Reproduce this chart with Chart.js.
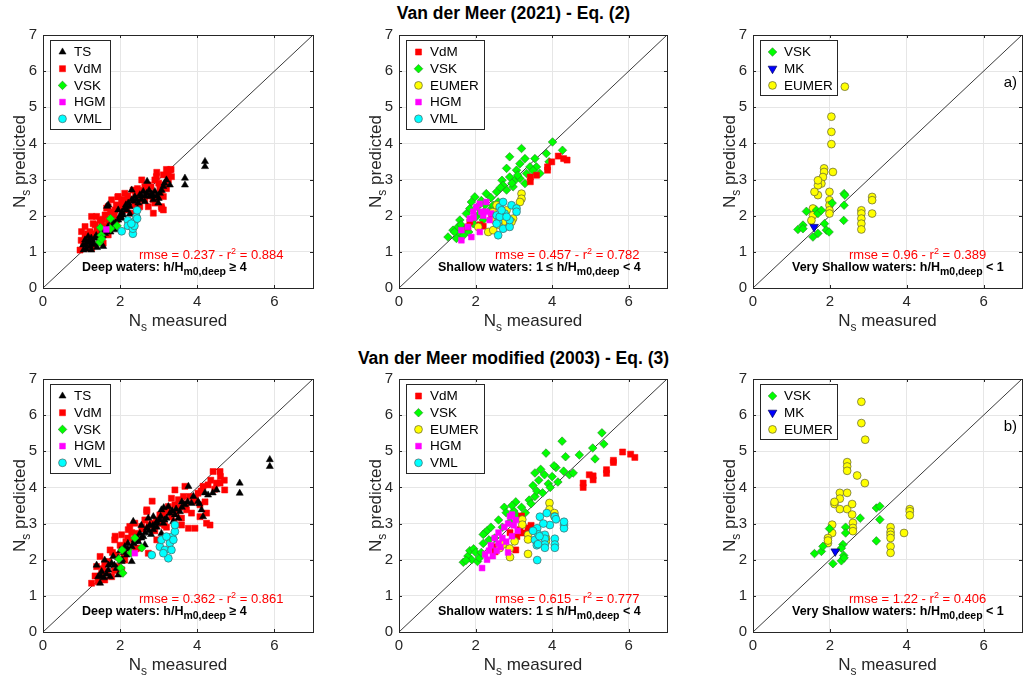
<!DOCTYPE html>
<html>
<head>
<meta charset="utf-8">
<script src="https://cdn.jsdelivr.net/npm/chart.js@4.4.1/dist/chart.umd.min.js"></script>
<style>
  html, body { margin: 0; padding: 0; background: #fff; }
  body { width: 1027px; height: 681px; position: relative; overflow: hidden;
         font-family: "Liberation Sans", Arial, Helvetica, sans-serif; }
  .title { position: absolute; left: 0; width: 1027px; text-align: center;
           font-weight: bold; font-size: 17.5px; color: #000; }
  canvas { position: absolute; }
</style>
</head>
<body>
<div class="title" style="top:3px">Van der Meer (2021) - Eq. (2)</div>
<div class="title" style="top:348px">Van der Meer modified (2003) - Eq. (3)</div>
<canvas id="c1"></canvas>
<canvas id="c2"></canvas>
<canvas id="c3"></canvas>
<canvas id="c4"></canvas>
<canvas id="c5"></canvas>
<canvas id="c6"></canvas>
<script>
// ---------- data: [N_s measured, N_s predicted] ----------
// Eq. (2), deep waters
const e2DeepTS = [[1.17,1.42],[1.3,1.28],[1.22,1.15],[1.43,1.24],[1.48,1.38],[1.61,1.51],[1.69,1.7],[1.82,1.75],
  [1.95,1.88],[2.08,2.02],[2.17,2.16],[2.21,2.35],[2.3,2.44],[2.38,2.53],[2.51,2.58],[2.6,2.67],[2.69,2.62],
  [2.77,2.53],[2.9,2.67],[3.03,2.62],[3.12,2.81],[3.2,2.99],[3.29,2.85],[1.69,2.3],[1.95,2.16],[2.12,2.21],
  [2.04,1.93],[1.87,1.61],[1.56,1.15],[1.09,1.33],[1.04,1.19],[1.35,1.38],[2.3,2.71],[2.47,2.35],[2.64,2.39],
  [2.86,2.44],[2.99,2.35],[1.66,2.26],[2.7,2.95],[1.12,1.08],[1.25,1.05],[1.4,1.12],[1.55,1.45],[1.75,1.55],
  [2.25,2.05],[2.45,2.2],[2.55,2.45],[2.85,2.55],[3.0,2.48],[3.68,3.04],[3.68,2.85],[4.2,3.5],[4.2,3.36],
  [1.15,1.25],[1.2,1.3],[1.3,1.2],[1.38,1.45],[1.5,1.5],[1.6,1.6],[1.7,1.6],[1.8,1.85],[1.88,1.8],[2.0,2.0],
  [2.05,2.1],[2.15,2.3],[2.25,2.25],[2.35,2.4],[2.42,2.45],[2.55,2.55],[2.65,2.55],[2.75,2.7],[2.82,2.6],
  [2.95,2.55],[3.08,2.7],[3.15,2.9],[1.05,1.05],[1.1,1.2],[1.25,1.38]];
const e2DeepVdM = [[0.96,1.05],[1.09,1.7],[1.26,1.98],[1.48,1.88],[1.69,2.25],[1.95,2.53],[2.12,2.62],[2.34,2.71],
  [2.56,2.99],[2.73,2.85],[2.94,3.08],[3.12,3.13],[3.29,3.27],[3.33,3.08],[3.16,2.85],[2.99,2.53],[3.07,2.25],
  [2.9,2.35],[3.12,2.16],[2.82,2.62],[2.64,2.44],[2.47,2.58],[2.38,2.3],[2.17,2.16],[2.04,2.35],[1.87,2.16],
  [1.78,1.98],[1.61,2.02],[1.52,1.79],[1.35,1.75],[1.22,1.56],[1.09,1.42],[1.0,1.56],[1.17,1.28],[1.35,1.19],
  [1.56,1.24],[1.69,1.47],[1.43,1.42],[1.91,1.88],[2.3,2.07],[2.51,2.25],[2.73,2.25],[2.86,2.07],[2.64,2.81],
  [2.9,2.99],[3.03,2.76],[3.25,2.99],[3.12,2.53],[2.94,2.39],[1.78,2.44],[1.65,2.21],[1.39,1.98],[1.13,1.19],
  [1.26,1.1],[1.94,2.52],[1.3,1.78],[3.08,2.2],[3.2,3.28],[3.32,3.28],[0.99,1.32],[2.2,2.4],[2.45,2.75],
  [1.05,1.2],[1.15,1.5],[1.2,1.35],[1.3,1.5],[1.4,1.65],[1.45,1.55],[1.55,1.9],[1.6,1.7],[1.7,1.85],[1.75,2.1],
  [1.85,2.0],[1.9,2.3],[2.0,2.2],[2.05,2.45],[2.1,2.3],[2.2,2.55],[2.25,2.45],[2.4,2.62],[2.5,2.45],[2.6,2.7],
  [2.7,2.55],[2.8,2.8],[2.85,2.45],[3.0,2.9],[3.05,2.6],[3.2,2.75],[3.25,3.15],[2.95,3.2],[1.1,1.1],[1.25,1.3]];
const e2DeepVSK = [[1.49,1.67],[1.51,1.46],[1.47,1.27],[1.75,1.92],[1.75,1.64],[1.92,1.72],[1.52,1.36]];
const e2DeepHGM = [[1.64,1.62]];
const e2DeepVML = [[2.04,1.57],[2.2,1.87],[2.2,1.72],[2.33,1.5],[2.33,1.64],[2.37,1.83],[2.42,1.97],[2.44,2.15],
  [2.44,1.92],[2.37,1.72],[2.29,1.78]];

// Eq. (2), shallow waters
const e2ShVdM = [[4.16,3.65],[4.3,3.58],[4.39,3.54],[3.99,3.49],[3.88,3.35],[3.88,3.26],[3.43,3.07],[3.59,3.12],
  [3.43,2.94],[2.2,1.71],[1.8,1.69],[1.85,1.83],[2.42,1.95],[2.6,2.0],[2.11,1.75]];
const e2ShVSK = [[1.28,1.41],[1.54,1.69],[1.41,1.6],[1.59,1.5],[1.76,2.06],[1.85,2.2],[1.98,2.52],[2.28,2.61],
  [2.55,2.66],[2.69,2.98],[2.89,3.63],[2.89,3.07],[3.07,3.26],[3.2,3.86],[3.16,3.44],[3.29,3.58],[3.33,3.17],
  [3.55,3.58],[3.59,3.35],[3.68,3.17],[3.85,3.72],[3.92,3.49],[4.01,4.04],[4.27,3.81],[2.81,2.71],[2.98,2.8],
  [3.03,2.98],[3.16,3.03],[2.81,3.31],[2.59,2.38],[2.37,2.15],[2.11,2.06],[2.2,1.88],[1.94,1.78],[1.72,1.64],
  [1.5,1.37],[1.59,1.88],[1.89,2.38],[2.46,2.29],[2.72,2.84],[3.29,2.89],[3.42,3.35],[1.68,1.45],[1.82,1.55],
  [2.05,2.25],[2.15,2.42],[2.4,2.5],[2.65,2.78],[2.95,2.9],[3.1,3.12],[3.5,3.25],[1.45,1.55],[1.62,1.75],
  [2.0,1.95],[2.25,2.3]];
const e2ShEUMER = [[3.2,2.61],[3.2,2.47],[3.16,2.38],[2.07,1.69],[2.33,1.55],[2.46,1.6],[2.5,1.88],[2.72,1.83],
  [2.98,1.92],[2.94,1.83],[2.55,2.29],[2.81,2.15],[2.45,2.1],[2.6,1.75]];
const e2ShHGM = [[1.63,1.32],[1.8,1.69],[1.85,1.92],[1.94,2.11],[2.11,2.33],[2.15,2.11],[2.28,2.38],[2.28,2.11],
  [2.41,2.06],[2.11,1.55],[1.89,1.41],[1.63,1.6],[2.37,1.88],[2.02,2.24],[2.2,2.0],[1.95,1.95]];
const e2ShVML = [[2.55,2.01],[2.59,1.83],[2.63,2.24],[2.72,2.38],[2.76,2.06],[2.59,1.46],[2.72,1.64],[2.89,1.69],
  [2.94,2.29],[3.07,2.2],[3.07,2.11],[2.89,1.88],[2.63,1.97],[2.55,1.78],[2.81,1.97],[2.68,2.15]];

// Eq. (2), very shallow waters
const e2VsVSK = [[1.17,1.62],[1.3,1.74],[1.3,1.64],[1.39,2.12],[1.65,2.15],[1.69,2.06],[1.78,2.15],[1.69,1.51],
  [1.56,1.41],[1.86,1.78],[1.91,1.6],[1.98,1.55],[2.06,2.35],[2.37,2.61],[2.37,2.29],[2.36,1.87],[2.39,2.57]];
const e2VsMK = [[1.59,1.69]];
const e2VsEUMER = [[2.39,5.57],[2.04,4.74],[2.04,4.32],[2.04,3.98],[2.08,3.21],[1.85,3.31],[1.85,3.21],[1.82,3.07],
  [1.78,2.89],[1.69,2.84],[1.69,2.57],[1.6,2.66],[1.69,2.98],[1.99,2.66],[1.99,2.43],[1.99,2.29],[1.99,2.15],
  [1.99,2.06],[1.56,2.2],[1.56,2.01],[1.52,1.87],[2.82,2.15],[2.82,2.06],[2.82,1.92],[2.82,1.78],[2.82,1.62],
  [3.1,2.52],[3.1,2.43],[3.1,2.06]];

// Eq. (3), deep waters
const e3DeepTS = [[1.39,1.85],[1.52,1.67],[1.43,1.53],[1.69,1.72],[1.78,1.9],[1.91,1.76],[2.04,1.95],[2.17,2.13],
  [2.3,2.36],[2.34,3.06],[2.38,2.55],[2.51,2.73],[2.6,2.64],[2.69,2.87],[2.77,2.96],[2.86,2.83],[2.94,3.01],
  [3.03,3.1],[3.07,3.38],[3.2,3.15],[3.29,3.29],[3.42,3.24],[3.55,3.33],[3.68,3.52],[3.77,4.03],[4.02,3.61],
  [4.11,3.38],[4.15,3.19],[4.28,3.79],[4.5,3.93],[5.1,4.12],[5.1,3.84],[5.88,4.77],[5.88,4.58],[1.6,1.99],
  [1.82,2.09],[1.74,1.53],[1.95,1.58],[1.48,1.35],[2.12,2.36],[2.25,2.18],[2.73,3.15],[3.12,3.01],[3.38,3.06],
  [3.51,3.15],[3.25,3.47],[2.47,2.5],[2.86,3.19],[3.07,2.73],[3.85,3.56],[2.3,1.95],[2.64,2.41],[3.13,3.44],
  [1.58,1.5],[2.0,2.25],[2.2,2.45],[2.55,2.95],[2.8,2.7],[2.95,2.9],[3.6,3.6],
  [1.5,1.55],[1.65,1.6],[1.7,1.85],[1.85,1.85],[1.95,2.05],[2.05,2.0],[2.1,2.2],[2.2,2.3],[2.35,2.45],
  [2.45,2.6],[2.55,2.6],[2.65,2.75],[2.75,2.8],[2.85,2.95],[2.95,3.05],[3.05,3.2],[3.15,3.1],[3.35,3.35],
  [3.45,3.4],[3.6,3.45],[3.75,3.6],[3.9,3.75],[4.05,3.55],[4.2,3.85],[4.4,3.85]];
const e3DeepVdM = [[1.26,1.35],[1.39,1.81],[1.48,2.09],[1.6,1.9],[1.65,1.67],[1.74,2.27],[1.86,2.55],[1.91,2.13],
  [1.95,1.81],[1.99,1.63],[2.12,1.99],[2.21,2.83],[2.25,2.92],[2.34,2.55],[2.43,2.73],[2.51,2.32],[2.64,3.1],
  [2.69,3.38],[2.82,3.01],[2.73,2.18],[2.94,3.1],[3.03,3.24],[3.16,3.33],[3.25,3.47],[3.33,3.19],[3.42,3.52],
  [3.51,3.66],[3.64,3.75],[3.72,3.38],[3.59,2.96],[3.77,2.87],[3.94,2.87],[3.85,3.29],[3.89,3.61],[4.02,3.84],
  [4.15,4.03],[4.28,4.07],[4.41,4.44],[4.59,4.44],[4.5,4.12],[4.59,4.12],[4.71,3.93],[4.24,3.01],[4.33,2.96],
  [4.24,3.29],[4.07,3.52],[3.33,3.7],[3.42,3.93],[2.69,3.33],[2.56,2.92],[2.38,3.01],[2.04,2.69],[1.43,1.39],
  [1.6,1.44],[1.78,1.53],[1.52,1.62],[2.04,1.72],[3.59,3.15],[4.07,3.19],[3.68,4.03],[2.83,3.62],[1.87,2.65],
  [2.95,2.55],[3.2,2.9],[2.4,2.3],[2.15,2.5],
  [1.35,1.55],[1.45,1.5],[1.55,1.75],[1.7,1.95],[1.8,2.2],[1.85,1.7],[2.0,2.4],[2.1,2.15],[2.2,2.6],[2.3,2.75],
  [2.45,2.55],[2.6,2.85],[2.75,2.95],[2.9,2.8],[3.0,3.0],[3.1,3.2],[3.3,3.35],[3.45,3.3],[3.55,3.45],[3.7,3.55],
  [3.8,3.75],[3.95,3.7],[4.1,3.9],[4.2,3.6],[4.35,4.2],[4.45,3.95],[4.6,4.3],[4.7,4.2],[3.4,3.05],[3.15,2.95]];
const e3DeepVSK = [[2.38,2.6],[2.05,2.27],[2.28,2.19],[2.56,2.33],[1.97,2.02],[2.02,1.77],[2.07,1.63]];
const e3DeepHGM = [[2.38,2.18]];
const e3DeepVML = [[2.82,2.13],[3.03,2.36],[3.07,2.55],[3.16,2.27],[3.25,2.04],[3.29,2.46],[3.35,2.64],[3.42,2.78],
  [3.42,2.96],[3.38,2.55],[3.2,2.64],[3.12,2.18],[3.33,2.27]];

// Eq. (3), shallow waters
const e3ShVdM = [[5.84,4.98],[6.05,4.92],[6.16,4.83],[5.6,4.75],[5.6,4.69],[5.42,4.49],[5.42,4.39],[5.07,4.32],
  [5.07,4.21],[4.97,4.35],[4.81,4.12],[4.81,4.0],[3.2,3.21],[3.16,2.83],[3.24,2.74],[3.08,2.64],[3.05,2.27],
  [2.55,2.36],[2.51,2.22],[3.37,2.88],[2.9,2.75],[3.45,2.95]];
const e3ShVSK = [[1.68,1.93],[1.8,2.1],[1.85,2.25],[1.9,2.0],[1.95,2.3],[2.0,2.2],[2.05,1.95],[2.1,2.05],[2.15,2.2],
  [2.2,2.45],[2.25,2.75],[2.3,2.8],[2.35,2.55],[2.4,2.9],[2.45,2.35],[2.5,2.6],[2.6,3.1],[2.7,2.9],[2.75,3.45],
  [2.8,3.3],[2.9,3.05],[3.0,3.35],[3.05,3.6],[3.1,3.2],[3.2,3.45],[3.3,3.3],[3.4,3.65],[3.45,3.55],[3.5,4.05],
  [3.55,3.75],[3.6,3.9],[3.65,4.2],[3.7,4.5],[3.75,3.85],[3.8,4.35],[3.84,4.95],[3.9,4.1],[3.95,4.0],[4.0,4.3],
  [4.1,4.55],[4.15,4.15],[4.26,5.28],[4.3,4.45],[4.35,4.85],[4.45,4.35],[4.55,4.4],[4.71,4.9],[5.12,4.79],
  [5.06,5.09],[5.3,5.51],[5.35,5.2],[3.55,4.4],[2.2,2.7],[1.75,1.98],[2.95,3.5],[4.05,4.6]];
const e3ShEUMER = [[3.93,3.57],[3.93,3.39],[4.06,3.29],[4.06,3.2],[3.22,3.11],[3.22,2.97],[3.37,2.69],[3.37,2.56],
  [3.37,2.16],[2.9,2.07],[2.89,2.31],[2.63,2.32],[3.02,2.51],[3.84,2.6],[3.84,2.51],[2.71,2.42]];
const e3ShHGM = [[2.17,1.77],[2.25,2.15],[2.3,2.0],[2.4,2.4],[2.45,2.1],[2.5,2.6],[2.55,2.25],[2.6,2.75],
  [2.65,2.35],[2.7,2.6],[2.75,2.9],[2.8,2.5],[2.85,3.0],[2.9,3.2],[2.95,2.65],[3.0,2.95],[3.05,3.1],[2.85,2.2],
  [2.6,2.45],[2.35,2.25],[3.1,2.8],[2.95,3.25]];
const e3ShVML = [[3.68,3.19],[3.86,3.29],[3.94,2.96],[4.07,3.19],[4.1,3.12],[4.31,2.96],[4.31,2.87],[4.31,3.05],
  [4.07,2.58],[4.07,2.42],[4.07,2.33],[3.81,2.69],[3.81,2.58],[3.81,2.42],[3.81,2.33],[3.61,2.87],[3.55,2.55],
  [3.64,2.7],[3.6,2.4],[3.63,2.43],[3.61,1.99],[3.77,3.0],[3.5,2.8],[3.67,2.65]];

// Eq. (3), very shallow waters
const e3VsVSK = [[1.6,2.17],[1.78,2.23],[1.82,2.37],[1.99,2.86],[2.08,1.89],[2.3,1.97],[2.34,2.42],[2.36,2.12],
  [2.37,2.05],[2.41,2.9],[2.41,2.74],[2.79,3.15],[3.21,3.43],[3.3,3.48],[3.3,3.11],[3.21,2.52],[2.3,2.32]];
const e3VsMK = [[2.14,2.23]];
const e3VsEUMER = [[2.82,6.37],[2.82,5.78],[2.92,5.32],[2.45,4.7],[2.45,4.58],[2.45,4.46],[2.71,4.33],[2.91,4.12],
  [2.26,3.85],[2.45,3.85],[2.26,3.69],[2.12,3.54],[2.12,3.6],[2.26,3.4],[2.45,3.4],[2.58,3.54],[2.58,3.25],
  [2.6,3.02],[2.6,2.88],[2.6,2.79],[2.06,2.97],[2.06,2.74],[1.95,2.6],[1.95,2.46],[1.95,2.53],[3.58,2.9],
  [3.58,2.77],[3.58,2.69],[3.58,2.6],[3.58,2.37],[3.58,2.19],[3.93,2.74],[4.08,3.4],[4.08,3.34],[4.08,3.23]];

const diagLine = [0, 7];
const xTicks = [0, 2, 4, 6];
const rmseVals = ['0.237', '0.457', '0.96', '0.362', '0.615', '1.22'];
const r2Vals = ['0.884', '0.782', '0.389', '0.861', '0.777', '0.406'];
const waterDeep = ['Deep waters: h/H', 'm0,deep', ' \u2265 4'];
const waterShallow = ['Shallow waters: 1 \u2264 h/H', 'm0,deep', ' < 4'];
const waterVery = ['Very Shallow waters: h/H', 'm0,deep', ' < 1'];

// ---------- styles ----------
const FONT = '"Liberation Sans", Arial, Helvetica, sans-serif';
const INK = '#262626';
const STY = {
  TS:    { pointStyle: 'triangle', bg: '#000000', bd: '#000000', r: 4.1, bw: 0.5 },
  VdM:   { pointStyle: 'rect',     bg: '#ff0000', bd: '#ff0000', r: 4.3, bw: 0.5 },
  VSK:   { pointStyle: 'rectRot',  bg: '#00ff00', bd: '#2b7a2b', r: 4.3, bw: 0.6 },
  EUMER: { pointStyle: 'circle',   bg: '#ffff00', bd: '#5e5e3a', r: 3.9, bw: 0.7 },
  HGM:   { pointStyle: 'rect',     bg: '#ff00ff', bd: '#ff00ff', r: 4.1, bw: 0.5 },
  VML:   { pointStyle: 'circle',   bg: '#00ffff', bd: '#4a6262', r: 3.9, bw: 0.7 },
  MK:    { pointStyle: 'triangle', bg: '#0000ff', bd: '#00005a', r: 5.0, bw: 0.7, rot: 180 }
};

const panels = [
  { id: 'c1', L: 43, T: 35, R: 313, legendW: 60, tag: null, rmse: 0, water: waterDeep,
    legend: ['TS', 'VdM', 'VSK', 'HGM', 'VML'], order: ['VML', 'HGM', 'VSK', 'TS', 'VdM'],
    series: { TS: e2DeepTS, VdM: e2DeepVdM, VSK: e2DeepVSK, HGM: e2DeepHGM, VML: e2DeepVML } },
  { id: 'c2', L: 399, T: 35, R: 667, legendW: 78, tag: null, rmse: 1, water: waterShallow,
    legend: ['VdM', 'VSK', 'EUMER', 'HGM', 'VML'], order: ['VML', 'HGM', 'EUMER', 'VdM', 'VSK'],
    series: { VdM: e2ShVdM, VSK: e2ShVSK, EUMER: e2ShEUMER, HGM: e2ShHGM, VML: e2ShVML } },
  { id: 'c3', L: 753, T: 35, R: 1022, legendW: 77, tag: 'a)', rmse: 2, water: waterVery,
    legend: ['VSK', 'MK', 'EUMER'], order: ['MK', 'VSK', 'EUMER'],
    series: { VSK: e2VsVSK, MK: e2VsMK, EUMER: e2VsEUMER } },
  { id: 'c4', L: 43, T: 379, R: 313, legendW: 60, tag: null, rmse: 3, water: waterDeep,
    legend: ['TS', 'VdM', 'VSK', 'HGM', 'VML'], order: ['VML', 'HGM', 'VSK', 'TS', 'VdM'],
    series: { TS: e3DeepTS, VdM: e3DeepVdM, VSK: e3DeepVSK, HGM: e3DeepHGM, VML: e3DeepVML } },
  { id: 'c5', L: 399, T: 379, R: 667, legendW: 78, tag: null, rmse: 4, water: waterShallow,
    legend: ['VdM', 'VSK', 'EUMER', 'HGM', 'VML'], order: ['VML', 'HGM', 'EUMER', 'VdM', 'VSK'],
    series: { VdM: e3ShVdM, VSK: e3ShVSK, EUMER: e3ShEUMER, HGM: e3ShHGM, VML: e3ShVML } },
  { id: 'c6', L: 753, T: 379, R: 1022, legendW: 77, tag: 'b)', rmse: 5, water: waterVery,
    legend: ['VSK', 'MK', 'EUMER'], order: ['MK', 'VSK', 'EUMER'],
    series: { VSK: e3VsVSK, MK: e3VsMK, EUMER: e3VsEUMER } }
];

const PLOT_H = 253, Y_AXIS_W = 43, X_AXIS_H = 50, PAD_TOP = 15, PAD_RIGHT = 5;

function drawMark(ctx, name, x, y) {
  const s = STY[name];
  ctx.fillStyle = s.bg;
  ctx.strokeStyle = s.bd;
  ctx.lineWidth = s.bw;
  Chart.helpers.drawPoint(ctx, { pointStyle: s.pointStyle, radius: s.r, rotation: s.rot || 0, borderWidth: s.bw }, x, y);
}

// draw text pieces one after another: [text, font, dy, color]
function runsWidth(ctx, runs) {
  let w = 0;
  runs.forEach(r => { ctx.font = r[1]; w += ctx.measureText(r[0]).width; });
  return w;
}
function drawRuns(ctx, x, y, runs) {
  runs.forEach(r => {
    ctx.font = r[1];
    ctx.fillStyle = r[3] || INK;
    ctx.fillText(r[0], x, y + r[2]);
    x += ctx.measureText(r[0]).width;
  });
}

function decoPlugin(p) {
  return {
    id: 'deco',
    afterDraw(chart) {
      const ctx = chart.ctx, a = chart.chartArea;
      const xs = chart.scales.x, ys = chart.scales.y;
      ctx.save();
      // inward ticks and box
      ctx.strokeStyle = INK;
      ctx.lineWidth = 1;
      ctx.beginPath();
      xs.ticks.forEach(t => {
        const px = Math.round(xs.getPixelForValue(t.value)) + 0.5;
        ctx.moveTo(px, a.bottom); ctx.lineTo(px, a.bottom - 3);
        ctx.moveTo(px, a.top); ctx.lineTo(px, a.top + 3);
      });
      ys.ticks.forEach(t => {
        const py = Math.round(ys.getPixelForValue(t.value)) + 0.5;
        ctx.moveTo(a.left, py); ctx.lineTo(a.left + 3, py);
        ctx.moveTo(a.right, py); ctx.lineTo(a.right - 3, py);
      });
      ctx.stroke();
      ctx.strokeRect(Math.round(a.left) + 0.5, Math.round(a.top) + 0.5,
                     Math.round(a.right - a.left), Math.round(a.bottom - a.top));

      // legend
      const lx = Math.round(a.left) + 7, ly = Math.round(a.top) + 5;
      const lh = Math.round(p.legend.length * 16.7 + 5);
      ctx.fillStyle = '#ffffff';
      ctx.fillRect(lx, ly, p.legendW, lh);
      ctx.strokeStyle = INK;
      ctx.lineWidth = 1;
      ctx.strokeRect(lx + 0.5, ly + 0.5, p.legendW, lh);
      p.legend.forEach((name, i) => {
        const cy = ly + 12 + i * 16.7;
        drawMark(ctx, name, lx + 12.5, cy);
        ctx.fillStyle = '#000';
        ctx.font = '13.5px ' + FONT;
        ctx.textBaseline = 'middle';
        ctx.textAlign = 'left';
        ctx.fillText(name, lx + 24, cy + 0.5);
      });

      // annotations
      ctx.textBaseline = 'alphabetic';
      ctx.textAlign = 'left';
      const red = '#ff0000';
      drawRuns(ctx, a.left + 96, a.bottom - 29, [
        ['rmse = ' + rmseVals[p.rmse] + ' - r', '13px ' + FONT, 0, red],
        ['2', '9px ' + FONT, -5, red],
        [' = ' + r2Vals[p.rmse], '13px ' + FONT, 0, red]
      ]);
      drawRuns(ctx, a.left + 39, a.bottom - 17, [
        [p.water[0], 'bold 12.5px ' + FONT, 0, '#000'],
        [p.water[1], 'bold 10.5px ' + FONT, 4, '#000'],
        [p.water[2], 'bold 12.5px ' + FONT, 0, '#000']
      ]);
      if (p.tag) {
        ctx.textAlign = 'right';
        ctx.font = '15px ' + FONT;
        ctx.fillStyle = '#000';
        ctx.fillText(p.tag, a.right - 5, a.top + 52);
        ctx.textAlign = 'left';
      }

      // axis titles
      const xRuns = [['N', '17px ' + FONT, 0], ['s', '12px ' + FONT, 5], [' measured', '17px ' + FONT, 0]];
      const xw = runsWidth(ctx, xRuns);
      drawRuns(ctx, (a.left + a.right) / 2 - xw / 2, a.bottom + 38, xRuns);
      const yRuns = [['N', '17px ' + FONT, 0], ['s', '12px ' + FONT, 5], [' predicted', '17px ' + FONT, 0]];
      const yw = runsWidth(ctx, yRuns);
      ctx.translate(a.left - 18, (a.top + a.bottom) / 2);
      ctx.rotate(-Math.PI / 2);
      drawRuns(ctx, -yw / 2, 0, yRuns);
      ctx.restore();
    }
  };
}

function buildDatasets(p) {
  const sets = p.order.map(name => {
    const s = STY[name];
    return {
      label: name,
      data: p.series[name].map(v => ({ x: v[0], y: v[1] })),
      pointStyle: s.pointStyle,
      pointRotation: s.rot || 0,
      pointRadius: s.r,
      backgroundColor: s.bg,
      borderColor: s.bd,
      borderWidth: s.bw,
      showLine: false
    };
  });
  sets.push({
    label: '1:1',
    data: diagLine.map(v => ({ x: v, y: v })),
    showLine: true,
    borderColor: '#3a3a3a',
    borderWidth: 1,
    pointRadius: 0,
    fill: false
  });
  return sets;
}

panels.forEach(p => {
  const cv = document.getElementById(p.id);
  const w = (p.R - p.L) + Y_AXIS_W + PAD_RIGHT;
  const h = PLOT_H + PAD_TOP + X_AXIS_H;
  cv.width = w; cv.height = h;
  cv.style.left = (p.L - Y_AXIS_W) + 'px';
  cv.style.top = (p.T - PAD_TOP) + 'px';
  cv.style.width = w + 'px';
  cv.style.height = h + 'px';

  new Chart(cv.getContext('2d'), {
    type: 'scatter',
    data: { datasets: buildDatasets(p) },
    options: {
      responsive: false,
      animation: false,
      events: [],
      layout: { autoPadding: false, padding: { left: 0, top: PAD_TOP, right: PAD_RIGHT, bottom: 0 } },
      plugins: { legend: { display: false }, tooltip: { enabled: false } },
      scales: {
        x: {
          type: 'linear', min: 0, max: 7,
          afterFit: s => { s.height = X_AXIS_H; },
          afterBuildTicks: s => { s.ticks = xTicks.map(v => ({ value: v })); },
          ticks: { color: INK, padding: 5, maxRotation: 0, font: { size: 15, family: FONT } },
          grid: { color: '#e6e6e6', drawTicks: false },
          border: { display: false }
        },
        y: {
          type: 'linear', min: 0, max: 7,
          afterFit: s => { s.width = Y_AXIS_W; },
          ticks: { stepSize: 1, color: INK, padding: 6, font: { size: 15, family: FONT } },
          grid: { color: '#e6e6e6', drawTicks: false },
          border: { display: false }
        }
      }
    },
    plugins: [decoPlugin(p)]
  });
});
</script>
</body>
</html>
